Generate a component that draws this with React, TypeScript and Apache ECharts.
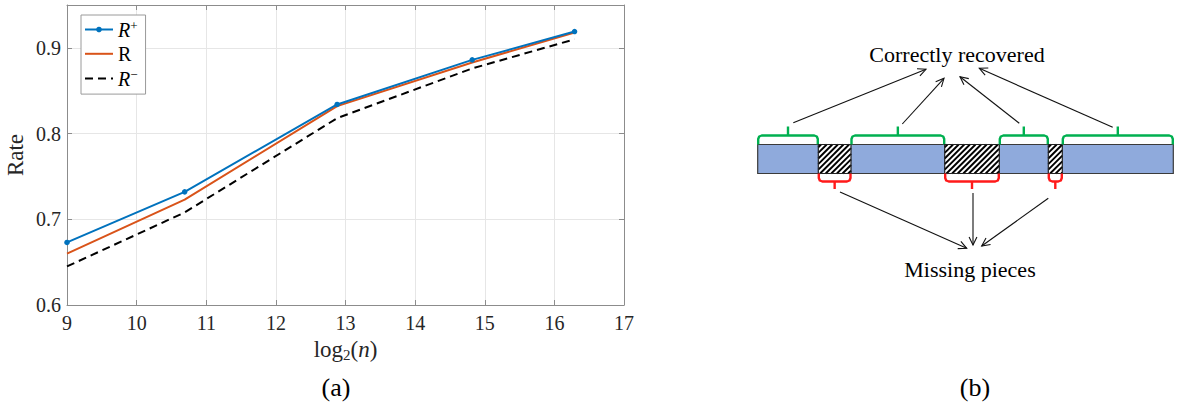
import React, { useEffect, useRef } from 'react';
import * as echarts from 'echarts';

// ---------- data (panel a) ----------
const log2n = [9, 10.69, 12.88, 14.82, 16.29];
const ratePlus = [0.673, 0.732, 0.834, 0.886, 0.919];
const rateMid = [0.66, 0.723, 0.832, 0.883, 0.918];
const rateMinus = [0.645, 0.708, 0.818, 0.876, 0.91];
const seriesNames = ['R+', 'R', 'R-'];
const xRange = [9, 17];
const yRange = [0.6, 0.95];

// ---------- labels (panel b) ----------
const topLabel = 'Correctly recovered';
const bottomLabel = 'Missing pieces';
const pieceKinds = ['ok', 'missing', 'ok', 'missing', 'ok', 'missing', 'ok'];

const FONT = 'Liberation Serif';
const BLUE = '#0072BD';
const ORANGE = '#D95319';
const AXIS = '#8c8c8c';

function arrow(x1: number, y1: number, x2: number, y2: number): any[] {
  const ang = Math.atan2(y2 - y1, x2 - x1);
  const L = 9;
  const a = 0.45;
  const p1 = [x2 - L * Math.cos(ang - a), y2 - L * Math.sin(ang - a)];
  const p2 = [x2 - L * Math.cos(ang + a), y2 - L * Math.sin(ang + a)];
  return [
    { type: 'line', shape: { x1, y1, x2, y2 }, style: { stroke: '#111', lineWidth: 1.1 } },
    { type: 'polyline', shape: { points: [p1, [x2, y2], p2] }, style: { stroke: '#111', lineWidth: 1.1, fill: 'none' } },
  ];
}

function brace(xa: number, xb: number, yBase: number, yLine: number, yTip: number, color: string): any[] {
  const d = yBase > yLine ? 1 : -1;
  const r = 3.5;
  const xm = (xa + xb) / 2;
  const points = [
    [xa, yBase],
    [xa, yLine + d * r],
    [xa + 1, yLine + d * 1],
    [xa + r, yLine],
    [xb - r, yLine],
    [xb - 1, yLine + d * 1],
    [xb, yLine + d * r],
    [xb, yBase],
  ];
  return [
    { type: 'polyline', shape: { points }, style: { stroke: color, lineWidth: 2.4, fill: 'none', lineJoin: 'round' } },
    { type: 'line', shape: { x1: xm, y1: yLine, x2: xm, y2: yTip }, style: { stroke: color, lineWidth: 2.4 } },
  ];
}

function hatch(x0: number, x1: number, y0: number, y1: number): any[] {
  const out: any[] = [];
  const step = 5.6;
  for (let c = x0 + y0 + step / 2; c < x1 + y1; c += step) {
    const xa = Math.max(x0, c - y1);
    const xb = Math.min(x1, c - y0);
    if (xb - xa > 0.3) {
      out.push({
        type: 'line',
        shape: { x1: xa, y1: c - xa, x2: xb, y2: c - xb },
        style: { stroke: '#000', lineWidth: 1.9 },
      });
    }
  }
  return out;
}

function buildDiagram(): any[] {
  const els: any[] = [];
  // layout of the schematic strip
  const edges = [757.7, 818.3, 851, 944.7, 999.3, 1048.3, 1062.3, 1173.3];
  const top = 144.5;
  const bot = 173.5;
  els.push({
    type: 'rect',
    shape: { x: edges[0], y: top, width: edges[edges.length - 1] - edges[0], height: bot - top },
    style: { fill: '#8faadc', stroke: '#3a3a3a', lineWidth: 1.2 },
  });
  pieceKinds.forEach((k, i) => {
    const xa = edges[i];
    const xb = edges[i + 1];
    if (k === 'missing') {
      els.push({
        type: 'rect',
        shape: { x: xa, y: top, width: xb - xa, height: bot - top },
        style: { fill: '#fff', stroke: 'none' },
      });
      els.push(...hatch(xa, xb, top, bot));
      els.push({
        type: 'rect',
        shape: { x: xa, y: top, width: xb - xa, height: bot - top },
        style: { fill: 'none', stroke: '#222', lineWidth: 1.2 },
      });
      els.push(...brace(xa + 0.5, xb - 0.5, bot, 181.5, 189, '#ff1a1a'));
    } else {
      els.push(...brace(xa + 0.5, xb - 0.5, top, 135.5, 126.5, '#00b050'));
    }
  });
  els.push(...arrow(793.3, 122.7, 926, 69.3));
  els.push(...arrow(902.3, 124, 944, 78.3));
  els.push(...arrow(1019.3, 123.3, 960, 76.7));
  els.push(...arrow(1112.7, 127.3, 979.3, 68.3));
  els.push(...arrow(840, 192, 966.7, 248.3));
  els.push(...arrow(973, 193, 973, 245));
  els.push(...arrow(1048.3, 198.3, 981.7, 246));
  els.push({
    type: 'text', x: 957, y: 54,
    style: { text: topLabel, fontFamily: FONT, fontSize: 22, fill: '#000', align: 'center', verticalAlign: 'middle' },
  });
  els.push({
    type: 'text', x: 970, y: 269,
    style: { text: bottomLabel, fontFamily: FONT, fontSize: 22, fill: '#000', align: 'center', verticalAlign: 'middle' },
  });
  els.push({
    type: 'text', x: 975, y: 387,
    style: { text: '(b)', fontFamily: FONT, fontSize: 26, fill: '#000', align: 'center', verticalAlign: 'middle' },
  });
  els.push({
    type: 'text', x: 336, y: 387,
    style: { text: '(a)', fontFamily: FONT, fontSize: 26, fill: '#000', align: 'center', verticalAlign: 'middle' },
  });
  return els;
}

export default function App() {
  const ref = useRef<HTMLDivElement>(null);
  useEffect(() => {
    if (!ref.current) return;
    const chart = echarts.init(ref.current, null, { renderer: 'svg' });
    const pts = (ys: number[]) => log2n.map((x, i) => [x, ys[i]]);
    const axisCommon = {
      type: 'value',
      axisLine: { show: true, lineStyle: { color: AXIS, width: 1 } },
      axisTick: { show: true, inside: true, length: 5, lineStyle: { color: AXIS } },
    };
    const richText = {
      r: { fontFamily: FONT, fontSize: 20, lineHeight: 21, color: '#000' },
      i: { fontFamily: FONT, fontSize: 20, fontStyle: 'italic', lineHeight: 21, color: '#000' },
      s: { fontFamily: FONT, fontSize: 13, lineHeight: 10, verticalAlign: 'top', color: '#000' },
    };
    const option: any = {
      animation: false,
      backgroundColor: '#fff',
      grid: { left: 67, top: 5, width: 557, height: 300, containLabel: false },
      xAxis: [
        {
          ...axisCommon,
          min: xRange[0], max: xRange[1], interval: 1,
          position: 'bottom',
          splitLine: { show: true, lineStyle: { color: '#e6e6e6', width: 1 } },
          axisLabel: { color: '#262626', fontFamily: FONT, fontSize: 20, margin: 8 },
          name: '{r|log}{s|2}{r|(}{i|n}{r|)}',
          nameLocation: 'middle',
          nameGap: 31,
          nameTextStyle: {
            rich: {
              r: { fontFamily: FONT, fontSize: 23, lineHeight: 26, color: '#262626' },
              i: { fontFamily: FONT, fontSize: 23, fontStyle: 'italic', lineHeight: 26, color: '#262626' },
              s: { fontFamily: FONT, fontSize: 15, lineHeight: 14, verticalAlign: 'bottom', color: '#262626' },
            },
          },
        },
        {
          ...axisCommon,
          min: xRange[0], max: xRange[1], interval: 1,
          position: 'top',
          splitLine: { show: false },
          axisLabel: { show: false },
        },
      ],
      yAxis: [
        {
          ...axisCommon,
          min: yRange[0], max: yRange[1], interval: 0.1,
          position: 'left',
          splitLine: { show: true, lineStyle: { color: '#e6e6e6', width: 1 } },
          axisLabel: {
            color: '#262626', fontFamily: FONT, fontSize: 20, margin: 6,
            formatter: (v: number) => (v > 0.925 ? '' : v.toFixed(1)),
          },
          name: 'Rate',
          nameLocation: 'middle',
          nameRotate: 90,
          nameGap: 40,
          nameTextStyle: { fontFamily: FONT, fontSize: 23, color: '#262626' },
        },
        {
          ...axisCommon,
          min: yRange[0], max: yRange[1], interval: 0.1,
          position: 'right',
          splitLine: { show: false },
          axisLabel: { show: false },
        },
      ],
      legend: {
        orient: 'vertical',
        left: 81,
        top: 15,
        padding: [4, 8, 5.5, 3],
        itemGap: 4.3,
        itemWidth: 28,
        itemHeight: 7,
        borderColor: '#9a9a9a',
        borderWidth: 1,
        backgroundColor: '#fff',
        data: [
          { name: seriesNames[0] },
          { name: seriesNames[1], itemStyle: { opacity: 0 } },
          { name: seriesNames[2], itemStyle: { opacity: 0 } },
        ],
        formatter: (name: string) =>
          name === 'R+' ? '{i|R}{s|+}' : name === 'R-' ? '{i|R}{s|−}' : '{r|R}',
        textStyle: { rich: richText },
      },
      series: [
        {
          name: seriesNames[2], type: 'line', data: pts(rateMinus), symbol: 'none', z: 2,
          lineStyle: { color: '#000', width: 2, type: [8, 5] }, itemStyle: { color: '#000' },
        },
        {
          name: seriesNames[1], type: 'line', data: pts(rateMid), symbol: 'none', z: 3,
          lineStyle: { color: ORANGE, width: 2 }, itemStyle: { color: ORANGE },
        },
        {
          name: seriesNames[0], type: 'line', data: pts(ratePlus), symbol: 'circle', symbolSize: 5.5, z: 4,
          lineStyle: { color: BLUE, width: 2 }, itemStyle: { color: BLUE },
        },
      ],
      graphic: buildDiagram(),
    };
    chart.setOption(option);
    return () => chart.dispose();
  }, []);
  return (
    <div
      ref={ref}
      style={{ position: 'absolute', left: 0, top: 0, width: 1184, height: 408, background: '#fff' }}
    />
  );
}
